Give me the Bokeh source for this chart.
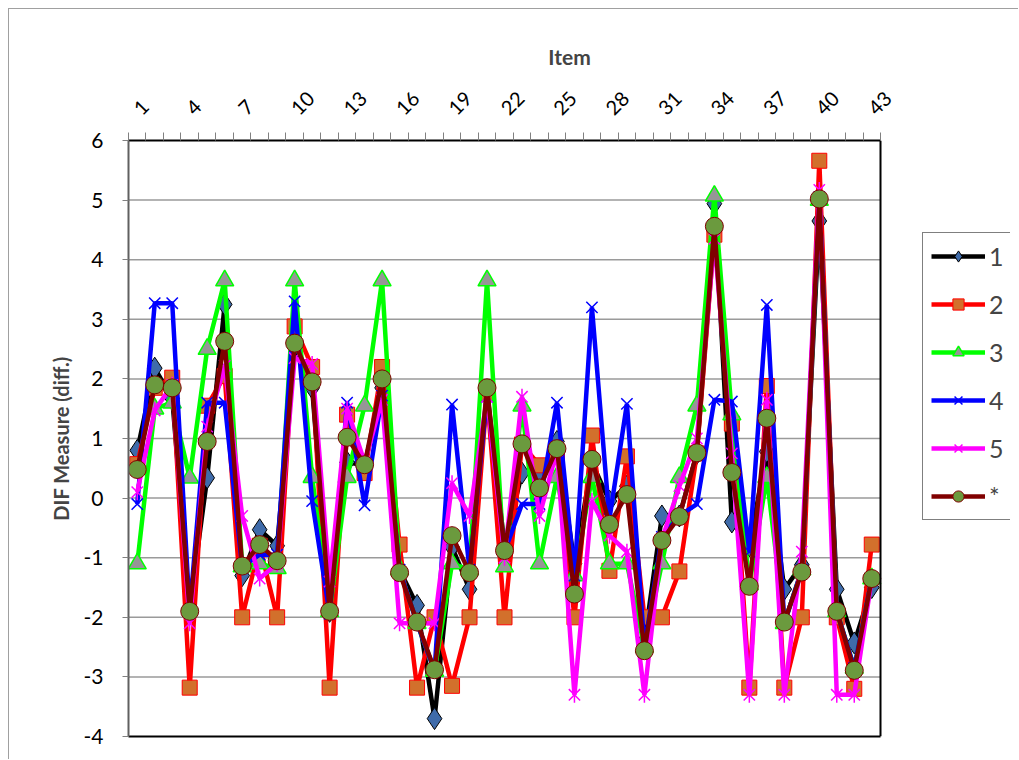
import math
from bokeh.plotting import figure
from bokeh.models import (FixedTicker, Range1d, Legend, LegendItem, ColumnDataSource,
                          LinearAxis, Span)
from bokeh.embed import file_html
from bokeh.resources import INLINE

items = list(range(1, 44))
tick_labels = [str(i) for i in range(1, 44, 3)]
y_ticks = list(range(-4, 7))

s1 = [0.80, 2.18, 1.67, -1.85, 0.34, 3.25, -1.30, -0.53, -0.80, 2.55,
      1.85, -1.90, 0.60, 0.55, 1.85, -1.20, -1.80, -3.70, -0.82, -1.53,
      1.80, -0.80, 0.42, 0.40, 0.95, -1.10, 0.60, -0.05, 0.20, -2.40,
      -0.30, -0.30, 0.75, 4.94, -0.40, -0.80, 0.78, -1.53, -1.12, 4.65,
      -1.53, -2.43, -1.50]
s2 = [0.57, 1.85, 2.02, -3.18, 1.55, 2.05, -2.00, -0.80, -2.00, 2.88,
      2.20, -3.18, 1.40, 0.42, 2.20, -0.78, -3.18, -2.00, -3.15, -2.00,
      1.75, -2.00, 0.90, 0.55, 0.70, -2.00, 1.05, -1.22, 0.70, -2.00,
      -2.00, -1.23, 0.75, 4.42, 1.25, -3.18, 1.88, -3.18, -2.00, 5.66,
      -2.00, -3.20, -0.78]
s3 = [-1.10, 1.50, 1.60, 0.34, 2.50, 3.65, -1.15, -1.10, -1.18, 3.65,
      0.35, -1.90, 0.35, 1.55, 3.65, -1.20, -2.10, -2.90, -1.10, -1.20,
      3.65, -1.15, 1.55, -1.10, 0.35, -1.30, 0.35, -1.10, -1.10, -2.50,
      -1.10, 0.35, 1.55, 5.07, 1.40, -1.45, 0.35, -2.10, -1.20, 5.00,
      -1.90, -2.85, -1.35]
s4 = [-0.10, 3.27, 3.27, -1.90, 1.60, 1.60, -1.15, -0.95, -0.95, 3.30,
      -0.05, -1.94, 1.60, -0.12, 1.72, -1.20, -2.10, -2.90, 1.57, -1.20,
      1.70, -0.90, -0.10, -0.10, 1.60, -1.30, 3.20, -0.35, 1.58, -2.50,
      -0.65, -0.30, -0.10, 1.65, 1.62, -0.90, 3.24, -2.10, -1.20, 5.05,
      -1.90, -2.85, -1.35]
s5 = [0.10, 1.47, 1.90, -2.10, 1.20, 2.22, -0.30, -1.35, -1.10, 2.35,
      2.25, -1.40, 1.50, 0.60, 1.65, -2.10, -2.10, -2.10, 0.25, -0.30,
      1.70, -1.00, 1.70, -0.30, 0.80, -3.30, -0.05, -0.63, -0.90, -3.30,
      -0.70, 0.20, 1.00, 4.35, 0.75, -3.30, 1.65, -3.30, -0.90, 5.17,
      -3.30, -3.30, -1.35]
s_all = [0.48, 1.90, 1.85, -1.90, 0.95, 2.63, -1.14, -0.78, -1.05, 2.60,
         1.95, -1.90, 1.02, 0.56, 2.00, -1.25, -2.08, -2.88, -0.63, -1.25,
         1.85, -0.88, 0.91, 0.17, 0.83, -1.61, 0.65, -0.44, 0.06, -2.56,
         -0.71, -0.31, 0.76, 4.56, 0.43, -1.48, 1.34, -2.08, -1.24, 5.02,
         -1.90, -2.89, -1.35]
series_names = ["1", "2", "3", "4", "5", "*"]

FONT = "Lato"

# plot area spans items 0.5..43.5 over 752 px; the frame is widened to the right
# so the legend (which sits right of the plot area) is not clipped
X0, X1 = 0.5, 43.5
FRAME_W, DATA_W = 882, 752
X_END = X0 + (X1 - X0) * FRAME_W / DATA_W

p = figure(width=1010, height=751, output_backend="svg", toolbar_location=None,
           x_range=Range1d(X0, X_END), y_range=Range1d(-4, 6),
           x_axis_location="above", min_border_left=119, min_border_right=9,
           min_border_top=131, min_border_bottom=24)
p.styles = {"margin-left": "8px", "margin-top": "8px",
            "border-top": "1px solid #a0a0a0", "border-left": "1px solid #a0a0a0"}
p.outline_line_color = None

xa = p.xaxis[0]
xa.bounds = (X0, X1)
xa.ticker = FixedTicker(ticks=list(range(1, 44, 3)),
                        minor_ticks=[0.5 + i for i in range(44)])
xa.major_label_overrides = {int(t): t for t in tick_labels}
xa.major_tick_line_color = None
xa.minor_tick_out = 8
xa.minor_tick_in = 0
xa.minor_tick_line_color = "#808080"
xa.axis_line_color = "black"
xa.axis_line_width = 2
xa.major_label_orientation = math.pi / 4
xa.major_label_text_font = FONT
xa.major_label_text_font_size = "20px"
xa.major_label_text_color = "black"
xa.major_label_standoff = 21
xa.axis_label = "Item"
xa.axis_label_text_font = FONT
xa.axis_label_text_font_style = "bold"
xa.axis_label_text_font_size = "21px"
xa.axis_label_standoff = 13

bottom = LinearAxis(bounds=(X0, X1), ticker=FixedTicker(ticks=[]),
                    axis_line_color="black", axis_line_width=2,
                    major_tick_line_color=None, minor_tick_line_color=None,
                    major_label_text_font_size="0px")
p.add_layout(bottom, "below")

ya = p.yaxis[0]
ya.ticker = FixedTicker(ticks=y_ticks)
ya.major_label_overrides = {t: str(t) for t in y_ticks}
ya.major_tick_out = 6
ya.major_tick_in = 0
ya.major_tick_line_color = "#808080"
ya.minor_tick_line_color = None
ya.axis_line_color = "#606060"
ya.axis_line_width = 2
ya.major_label_text_font = FONT
ya.major_label_text_font_size = "21px"
ya.major_label_text_color = "black"
ya.major_label_standoff = 19
ya.axis_label = "DIF Measure (diff.)"
ya.axis_label_text_font = FONT
ya.axis_label_text_font_style = "bold"
ya.axis_label_text_font_size = "20px"
ya.axis_label_standoff = 8

p.xgrid.visible = False
p.ygrid.visible = False
grid_src = ColumnDataSource(dict(y=y_ticks[1:-1]))
p.segment(x0=X0, x1=X1, y0="y", y1="y", source=grid_src,
          line_color="#9a9a9a", line_width=1.5)
p.add_layout(Span(location=X1, dimension="height", line_color="black", line_width=2))

src = ColumnDataSource(dict(x=items, s1=s1, s2=s2, s3=s3, s4=s4, s5=s5, sa=s_all))
LW = 4.5
legend_items = []

l1 = p.line("x", "s1", source=src, line_color="black", line_width=LW)
m1 = p.scatter("x", "s1", source=src, marker="diamond", size=22,
               fill_color="#3F6BAA", line_color="black", line_width=1)
legend_items.append(LegendItem(label=series_names[0], renderers=[l1, m1]))

l2 = p.line("x", "s2", source=src, line_color="#FF0000", line_width=LW)
m2 = p.scatter("x", "s2", source=src, marker="square", size=15,
               fill_color="#D2702C", line_color="#FF0000", line_width=1)
legend_items.append(LegendItem(label=series_names[1], renderers=[l2, m2]))

l3 = p.line("x", "s3", source=src, line_color="#00FF00", line_width=LW)
m3 = p.scatter("x", "s3", source=src, marker="triangle", size=18,
               fill_color="#969696", line_color="#00FF00", line_width=1.5)
legend_items.append(LegendItem(label=series_names[2], renderers=[l3, m3]))

l4 = p.line("x", "s4", source=src, line_color="#0000FF", line_width=LW)
m4 = p.scatter("x", "s4", source=src, marker="x", size=16,
               line_color="#0000FF", line_width=1.5)
legend_items.append(LegendItem(label=series_names[3], renderers=[l4, m4]))

l5 = p.line("x", "s5", source=src, line_color="#FF00FF", line_width=LW)
m5a = p.scatter("x", "s5", source=src, marker="x", size=16,
                line_color="#FF00FF", line_width=1.5)
m5b = p.scatter("x", "s5", source=src, marker="dash", size=16, angle=math.pi / 2,
                line_color="#FF00FF", line_width=1.5)
legend_items.append(LegendItem(label=series_names[4], renderers=[l5, m5a, m5b]))

l6 = p.line("x", "sa", source=src, line_color="#800000", line_width=LW)
m6 = p.scatter("x", "sa", source=src, marker="circle", size=18,
               fill_color="#6B9A3E", line_color="#800000", line_width=1)
legend_items.append(LegendItem(label=series_names[5], renderers=[l6, m6]))

legend = Legend(items=legend_items, location=(794, 216))
legend.glyph_width = 54
legend.glyph_height = 28
legend.label_height = 28
legend.spacing = 18
legend.padding = 8
legend.margin = 0
legend.label_standoff = 4
legend.label_text_font = FONT
legend.label_text_font_size = "25px"
legend.border_line_color = "black"
legend.border_line_width = 1.5
legend.background_fill_alpha = 1
p.add_layout(legend, "center")

open("out.html", "w").write(file_html(p, INLINE))
